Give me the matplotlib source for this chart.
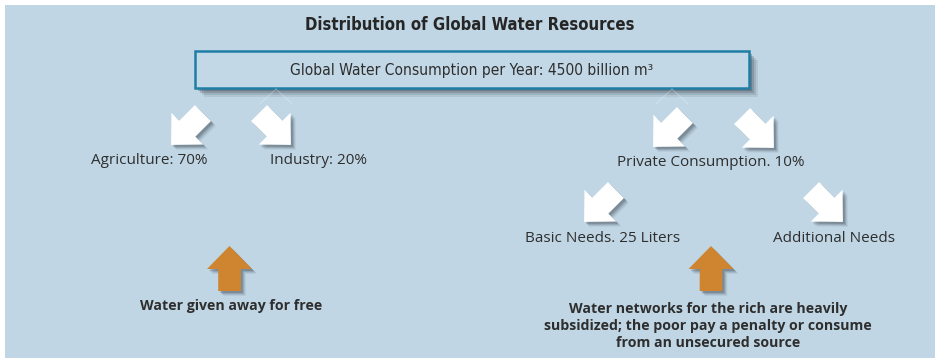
import matplotlib.pyplot as plt
import numpy as np
from matplotlib.patches import Polygon, Rectangle

# texts of the diagram
title = "Distribution of Global Water Resources"
header = "Global Water Consumption per Year: 4500 billion m³"
branch_labels = ["Agriculture: 70%", "Industry: 20%", "Private Consumption. 10%",
                 "Basic Needs. 25 Liters", "Additional Needs"]
note_labels = ["Water given away for free",
               "Water networks for the rich are heavily\n"
               "subsidized; the poor pay a penalty or consume\n"
               "from an unsecured source"]

# layout in pixel coordinates (y down)
label_pos = [(149, 161), (318, 161), (711, 162), (603, 238), (834, 238)]
note_pos = [(231, 306), (708, 326)]
white_arrows = [((187, 129), (-1, 1)), ((275, 129), (1, 1)),
                ((669, 131), (-1, 1)), ((758, 132), (1, 1)),
                ((600, 206), (-1, 1)), ((827, 206), (1, 1))]
orange_arrows = [((229.5, 268.5), (0, -1)), ((711, 268.5), (0, -1))]

BG = '#c0d6e4'
TXT = '#2e2e2e'


def arrow_pts(center, direction, L=45, neck=-0.5, ws=22.6, wh=45):
    cx, cy = center
    d = np.array(direction, float)
    d = d / np.hypot(*d)
    dx, dy = d
    uv = [(-L / 2, -ws / 2), (neck, -ws / 2), (neck, -wh / 2), (L / 2, 0),
          (neck, wh / 2), (neck, ws / 2), (-L / 2, ws / 2)]
    return [(cx + u * dx - v * dy, cy + u * dy + v * dx) for u, v in uv]


def draw_arrow(ax, center, direction, color):
    pts = arrow_pts(center, direction)
    for off, a in [(5, 0.08), (4, 0.12), (3, 0.18), (2, 0.25)]:
        sh = [(x + off, y + off) for x, y in pts]
        ax.add_patch(Polygon(sh, closed=True, facecolor='#3a4550', edgecolor='none', alpha=a))
    ax.add_patch(Polygon(pts, closed=True, facecolor=color, edgecolor='none'))


fig = plt.figure(figsize=(9.39, 3.58), dpi=100)
ax = fig.add_axes([0, 0, 1, 1])
ax.set_xlim(0, 939)
ax.set_ylim(358, 0)
ax.axis('off')

ax.add_patch(Rectangle((5, 5), 930, 360, facecolor=BG, edgecolor='none'))

ax.text(470, 25, title, ha='center', va='center', fontsize=12, fontweight='bold',
        family='DejaVu Sans', fontstretch='condensed', color='#262626')

# header box with shadow
for off, a in [(9, 0.10), (7, 0.15), (5, 0.22), (3, 0.3)]:
    ax.add_patch(Rectangle((195 + off, 51 + off), 554, 37, facecolor='#333d47',
                           edgecolor='none', alpha=a))
ax.add_patch(Rectangle((195, 51), 554, 37, facecolor='#c3d8e6', edgecolor='#1f7ea6', lw=1.8))
ax.text(472, 70, header, ha='center', va='center', fontsize=11.2,
        family='DejaVu Sans', fontstretch='condensed', color=TXT)

# faint connectors under the box
for apex in (276, 672):
    ax.plot([apex, apex - 16], [89, 104], color='white', alpha=0.25, lw=0.8)
    ax.plot([apex, apex + 16], [89, 104], color='white', alpha=0.25, lw=0.8)

for c, d in white_arrows:
    draw_arrow(ax, c, d, 'white')
for c, d in orange_arrows:
    draw_arrow(ax, c, d, '#cf8530')

for lab, (x, y) in zip(branch_labels, label_pos):
    ax.text(x, y, lab, ha='center', va='center', fontsize=11, family='Open Sans', color=TXT)

for lab, (x, y) in zip(note_labels, note_pos):
    ax.text(x, y, lab, ha='center', va='center', fontsize=10.2, fontweight='bold',
            family='Open Sans', color=TXT, linespacing=1.3)

fig.savefig('out.png', dpi=100)
